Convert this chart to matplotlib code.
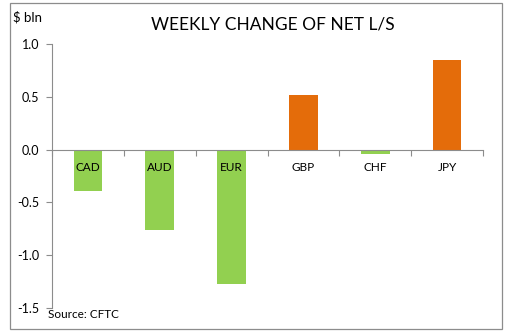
import matplotlib
matplotlib.use("Agg")
import matplotlib.pyplot as plt
from matplotlib.patches import Rectangle

categories = ["CAD", "AUD", "EUR", "GBP", "CHF", "JPY"]
values = [-0.39, -0.76, -1.27, 0.52, -0.045, 0.85]
yticks = [-1.5, -1.0, -0.5, 0.0, 0.5, 1.0]

green = "#92D050"
orange = "#E46C0A"
colors = [orange if v > 0 else green for v in values]

plt.rcParams['font.family'] = ['Lato', 'DejaVu Sans']

fig = plt.figure(figsize=(5.05, 3.33), dpi=100)
fig.patch.set_facecolor("white")
# chart border
fig.patches.append(Rectangle((10/505, 1-329/333), 492/505, 326/333,
                             transform=fig.transFigure, fill=False,
                             edgecolor="#8c8c8c", linewidth=0.9))

ax = fig.add_axes([52/505, 1-308/333, 431/505, 264/333])
x = range(len(categories))
ax.bar(x, values, width=0.4, color=colors, zorder=2)
ax.set_xlim(-0.5, len(categories) - 0.5)
ax.set_ylim(-1.5, 1.0)
ax.set_yticks(yticks)
ax.set_yticklabels([f"{t:.1f}" for t in yticks], fontsize=9)
ax.tick_params(axis='y', direction='out', length=4, color="#8c8c8c", pad=5)

ax.spines['top'].set_visible(False)
ax.spines['right'].set_visible(False)
ax.spines['left'].set_color("#8c8c8c")
ax.spines['bottom'].set_color("#8c8c8c")
ax.spines['bottom'].set_position(('data', 0))
ax.set_xticks([i - 0.5 for i in range(len(categories) + 1)])
ax.set_xticklabels([])
ax.tick_params(axis='x', direction='out', length=4, color="#8c8c8c")

for i, c in enumerate(categories):
    ax.text(i, -0.165, c, ha='center', va='center', fontsize=8.5, zorder=3)

fig.text(273/505, 1-25/333, "WEEKLY CHANGE OF NET L/S", ha='center', va='center', fontsize=12.5)
fig.text(13/505, 1-17/333, "$ bln", ha='left', va='center', fontsize=9.5)
fig.text(48/505, 1-315/333, "Source: CFTC", ha='left', va='center', fontsize=8.5)

fig.savefig("out.png", dpi=100, facecolor="white")
